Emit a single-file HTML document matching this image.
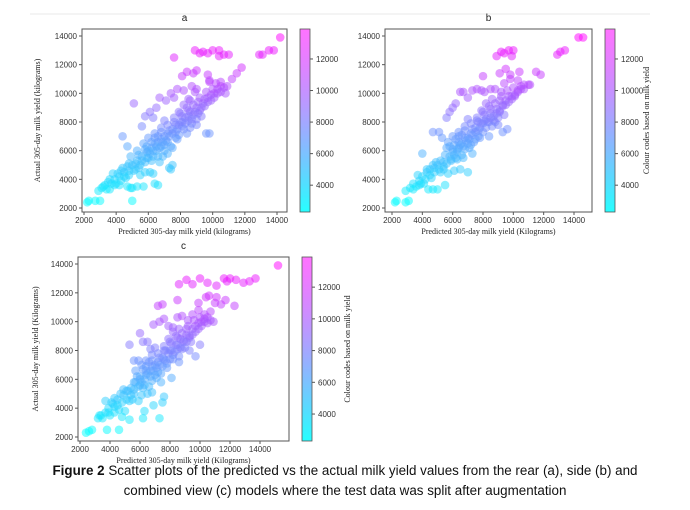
<!DOCTYPE html>
<html><head><meta charset="utf-8"><style>
body{margin:0;background:#fff;width:690px;height:510px;overflow:hidden}
svg{display:block}
.tk{font-family:"Liberation Sans",sans-serif;font-size:8px;fill:#333}
.al{font-family:"Liberation Serif",serif;font-size:8px;fill:#222}
.cap{position:absolute;left:0;width:690px;text-align:center;font-family:"Liberation Sans",sans-serif;font-size:13.4px;color:#111}
</style></head><body>
<svg id="chart" width="690" height="510">
<line x1="30" y1="14" x2="650" y2="14" stroke="#e8e8e8"/>
<defs><linearGradient id="cool" x1="0" y1="1" x2="0" y2="0"><stop offset="0" stop-color="#00ffff" stop-opacity="0.85"/><stop offset="1" stop-color="#ff00ff" stop-opacity="0.55"/></linearGradient></defs>
</svg>
<div class="cap" style="top:463px"><b>Figure 2</b> Scatter plots of the predicted vs the actual milk yield values from the rear (a), side (b) and</div>
<div class="cap" style="top:483px">combined view (c) models where the test data was split after augmentation</div>
<script>
const xTicks=[2000,4000,6000,8000,10000,12000,14000];
const yTicks=[2000,4000,6000,8000,10000,12000,14000];
const cbTicks=[4000,6000,8000,10000,12000];
const cbRange=[2300,13900];
const ptsA=[[2200,2400],[2300,2500],[2700,2500],[3000,2500],[2900,3200],[3100,3400],[3300,3600],[3500,3800],[3600,3300],[3900,4000],[4000,3700],[4200,4200],[4300,3900],[4500,4500],[4400,4800],[4600,4100],[4700,3500],[4900,3400],[5000,3400],[5300,3500],[5000,2500],[4800,4600],[5000,5000],[5200,4700],[5300,5300],[5500,5000],[5600,5600],[5800,5200],[5900,5900],[6000,5500],[6200,6200],[6100,4500],[6300,4400],[6400,3700],[6600,3600],[6300,5600],[6500,6000],[6600,6600],[6800,6300],[6900,5600],[7000,7000],[7200,6600],[7300,4800],[7400,4700],[7500,5000],[7200,5800],[7500,7200],[7700,6900],[7800,7500],[8000,8000],[8100,7700],[8300,8300],[8500,8100],[8600,8700],[8800,8500],[9000,9000],[9200,8800],[9400,9300],[9500,9600],[9700,9400],[9900,9900],[10100,10000],[10300,10300],[10500,10500],[10700,10400],[10800,10000],[9600,7200],[9800,7200],[8400,7200],[9000,7800],[4400,7000],[4700,6300],[4900,5600],[5300,6000],[5100,9300],[5600,7700],[5800,8400],[6100,8700],[6300,8300],[6500,9000],[6700,9700],[7100,9500],[7400,10000],[7600,9700],[7800,10300],[8200,10200],[8500,9600],[8900,10100],[9000,10300],[8700,10500],[9800,10900],[10200,10700],[10500,10800],[10900,10500],[11200,11000],[11500,11400],[11800,11800],[8100,11200],[8400,11500],[8800,11400],[9000,11600],[9700,11300],[9800,10800],[7600,12500],[8900,13000],[9200,12800],[9400,12900],[9700,12800],[10000,13000],[10400,12600],[10400,13000],[10700,12700],[11000,12700],[12900,12700],[13100,12700],[13500,13000],[13800,13000],[14200,13900],[7200,7200],[6800,7600],[7000,8100],[7600,8300],[7900,8700],[8200,9200],[8600,9500],[5700,6500],[6000,6900],[6400,7200],[5500,4300],[5800,4500],[6700,5200],[7000,6000],[4200,3600],[3800,4400],[3400,3300],[3700,3700],[5700,3500],[6000,6000],[6400,6500],[6800,6800],[7300,7400],[7700,7800],[8100,8400],[8500,8800],[9100,9400],[6200,5300],[5400,5700],[4800,5100],[4100,4400],[3600,4000],[3200,3500],[7500,6200],[7900,7100],[8700,7900],[9300,8400],[6600,7000],[5900,6300],
[4500,4200],[4800,4300],[5100,4600],[5400,4800],[5600,5300],[5900,5500],[6100,5800],[6300,6000],[6500,6300],[6700,6200],[6900,6600],[7100,6700],[7300,7000],[7500,7500],[7700,7300],[7900,7800],[8100,8000],[8300,7900],[8500,8400],[8700,8200],[8900,8700],[9100,8600],[9300,9000],[9500,9100],[9700,9700],[9900,9500],[10100,9700],[10300,10000],[10500,10100],[6600,5600],[7000,6400],[7400,6300],[7800,6800],[8200,7500],[8600,7600],[9000,8200],[6400,6900],[6800,7300],[7200,7800],[7600,8000],[8000,8600],[8400,9000],[8800,9200],[9200,9700],[9600,10100],[10000,10300],[3900,3600],[4300,4600],[4700,4900],[5200,5100],[5800,6100],[6200,6600]];
const ptsB=[[2200,2400],[2300,2500],[2900,2400],[3100,2500],[2900,3200],[3200,3400],[3400,3700],[3600,3500],[3800,3900],[4000,4200],[4100,3700],[4300,4500],[4400,3300],[4600,4100],[4700,3300],[5000,3300],[4800,4800],[5000,5000],[5200,4500],[5400,5200],[5500,3600],[5700,4400],[5800,5600],[6000,5900],[6100,4600],[6300,5400],[6400,6200],[6500,4700],[6600,6500],[6800,6100],[7000,4500],[7000,6900],[7200,6400],[7300,5800],[7500,7300],[7700,7000],[7800,7600],[8000,7900],[8200,8200],[8400,8000],[8500,8600],[8700,8400],[8900,8900],[9100,8700],[9300,9200],[9500,9500],[9700,9400],[9900,9800],[10100,9900],[10300,10200],[10500,10500],[10700,10300],[11000,10600],[9300,7300],[9600,7500],[8400,7000],[9000,7800],[4000,5800],[4700,7300],[5100,7300],[5300,6900],[5600,8300],[5800,8700],[6000,9000],[6200,9300],[6500,10100],[6700,10100],[7000,9700],[7300,10200],[7600,10300],[7900,10200],[8100,10100],[8500,10300],[8800,10300],[9200,10100],[9400,10700],[9800,11000],[10300,10900],[10700,10600],[11100,10600],[11500,11500],[11800,11300],[8000,11200],[9100,11400],[9500,11700],[9800,11300],[10400,11500],[8900,12600],[9200,12900],[9400,12800],[9700,13000],[10000,13000],[9900,12600],[12900,12700],[13100,12900],[13400,13000],[14300,13900],[14600,13900],[7200,7200],[6800,7700],[7000,8200],[7600,8300],[7900,8800],[8200,9300],[8600,9600],[5700,6600],[6000,7000],[6400,7300],[5400,4900],[5900,5300],[6700,5500],[7100,6200],[4200,4000],[3700,4300],[3400,3300],[3800,3600],[6000,6100],[6400,6600],[6800,6900],[7300,7500],[7700,8000],[8100,8500],[8500,8900],[9100,9500],[6200,5500],[5500,5700],[4900,5200],[4500,4700],[5600,6200],[6100,6400],[7500,6800],[8000,7300],[8800,8000],[9400,8500],[6600,7100],[6300,5900],
[4500,4300],[4800,4500],[5100,4700],[5400,4700],[5600,5100],[5900,5400],[6100,5700],[6300,6100],[6500,6400],[6700,6300],[6900,6700],[7100,6800],[7300,7100],[7500,7600],[7700,7400],[7900,7900],[8100,8100],[8300,8000],[8500,8300],[8700,8100],[8900,8600],[9100,8800],[9300,9100],[9500,9200],[9700,9800],[9900,9600],[10100,9800],[10300,10100],[10500,10300],[6600,5700],[7000,6500],[7400,6600],[7800,6900],[8200,7600],[8600,7700],[9000,8300],[6400,7000],[6800,7400],[7200,7900],[7600,8100],[8000,8700],[8400,9100],[8800,9300],[9200,9800],[9600,10200],[10000,10400],[3900,3700],[4300,4700],[4700,5000],[5200,5300],[5800,6300],[6200,6800]];
const ptsC=[[2400,2300],[2600,2400],[2800,2500],[3800,2500],[4600,2500],[3200,3300],[3300,3500],[3500,3300],[3700,3700],[3900,4000],[4000,3500],[4200,4300],[4300,3700],[4500,4600],[4600,3900],[4800,3400],[5000,3800],[5300,3200],[4900,4900],[5100,5200],[5300,4500],[5400,5400],[5600,5000],[5700,5800],[5900,4500],[6000,6000],[6200,3300],[6300,3800],[6200,5400],[6400,6300],[6500,5000],[6700,6600],[6800,5900],[6900,4200],[7000,7000],[7200,6500],[7300,3300],[7500,4400],[7600,4800],[7400,5800],[7600,7400],[7800,7100],[8000,8000],[8100,6100],[8200,7700],[8400,8400],[8500,8100],[8700,8800],[8900,8600],[9100,9100],[9300,8900],[9500,9500],[9700,9300],[9900,9900],[10100,10000],[10300,10200],[10500,10300],[10700,10100],[10900,10000],[9700,7600],[10000,8400],[8600,7200],[9300,8000],[5300,8400],[5600,7300],[5900,7300],[6000,9200],[6200,8600],[6500,8600],[6700,8100],[6900,9800],[7300,10000],[7600,10200],[7900,9700],[8200,9600],[8500,10300],[8800,10400],[9200,10100],[9500,10500],[9900,10800],[10300,10500],[10700,10700],[11000,11300],[11400,11200],[11700,11500],[12300,11100],[7200,11100],[7500,11200],[8500,11500],[9900,11300],[10400,11700],[10600,11800],[11100,11700],[8600,12600],[9100,12900],[9500,12600],[10000,13000],[10500,12700],[11100,12500],[11600,13000],[11800,12800],[12000,13000],[12400,12900],[12900,12700],[13300,12800],[13700,13000],[15200,13900],[7200,7200],[6800,7700],[7000,8200],[7600,8300],[7900,8800],[8200,9300],[8600,9500],[5700,6600],[6100,7000],[6400,7300],[5500,4600],[6100,4900],[6800,5100],[7100,6100],[4300,4100],[3700,4500],[3400,3500],[6000,6200],[6400,6600],[6800,6900],[7300,7500],[7700,8000],[8100,8500],[8500,8900],[9100,9500],[6300,5600],[5600,5800],[4900,5300],[4100,4400],[7500,6900],[8000,7400],[8800,8100],[9400,8600],[6600,7200],[6000,5600],
[4500,4200],[4800,4400],[5100,4600],[5400,4900],[5600,5300],[5900,5500],[6100,5800],[6300,6000],[6500,6400],[6700,6200],[6900,6600],[7100,6800],[7300,7000],[7500,7500],[7700,7300],[7900,7800],[8100,8000],[8300,7900],[8500,8400],[8700,8200],[8900,8700],[9100,8600],[9300,9000],[9500,9100],[9700,9700],[9900,9500],[10100,9700],[10300,10000],[10500,9900],[6600,5500],[7000,6300],[7400,6400],[7800,6800],[8200,7400],[8600,7600],[9000,8200],[6400,6900],[6800,7300],[7200,7800],[7600,8000],[8000,8600],[8400,9000],[8800,9200],[9200,9700],[9600,10100],[10000,10300],[3900,3700],[4300,4700],[4700,5000],[5200,5200],[5800,6200],[6200,6700]];
const NS='http://www.w3.org/2000/svg';
const svg=document.getElementById('chart');
function mk(tag,attrs,parent){const e=document.createElementNS(NS,tag);for(const k in attrs)e.setAttribute(k,attrs[k]);(parent||svg).appendChild(e);return e;}
function cool(v){let t=(v-cbRange[0])/(cbRange[1]-cbRange[0]);t=Math.max(0,Math.min(1,t));return 'rgb('+Math.round(255*t)+','+Math.round(255*(1-t))+',255)';}
function drawPlot(id,pts,g){
  const sx=v=>g.x2000+(v-2000)*(g.x14000-g.x2000)/12000;
  const sy=v=>g.y2000+(v-2000)*(g.y14000-g.y2000)/12000;
  const grp=mk('g',{});
  
  
  const t=mk('text',{x:(g.bx1+g.bx2)/2,y:g.by1-8,'text-anchor':'middle','font-family':'Liberation Sans,sans-serif','font-size':'10',fill:'#222'},grp);t.textContent=id;
  
  
  pts.forEach(p=>{const c=mk('circle',{cx:sx(p[0]),cy:sy(p[1]),r:4.3,fill:cool(p[1]),'fill-opacity':0.5},grp);
    
    });
  const fr=mk('rect',{x:g.bx1,y:g.by1,width:g.bx2-g.bx1,height:g.by2-g.by1,fill:'none',stroke:'#555','stroke-width':1},grp);
  
  
  xTicks.forEach(v=>{const x=sx(v);mk('line',{x1:x,x2:x,y1:g.by2,y2:g.by2+3,stroke:'#555'},grp);
    const l=mk('text',{x:x,y:g.by2+11,'text-anchor':'middle',class:'tk'},grp);l.textContent=v;
    
    });
  yTicks.forEach(v=>{const y=sy(v);mk('line',{x1:g.bx1-3,x2:g.bx1,y1:y,y2:y,stroke:'#555'},grp);
    const l=mk('text',{x:g.bx1-5,y:y+3,'text-anchor':'end',class:'tk'},grp);l.textContent=v;
    
    });
  const xl=mk('text',{x:(g.bx1+g.bx2)/2,y:g.by2+22,'text-anchor':'middle',class:'al'},grp);xl.textContent=g.xlabel;
  
  
  if(g.ylabel){const yl=mk('text',{x:0,y:0,'text-anchor':'middle',class:'al',transform:'translate('+g.ylx+','+(g.by1+g.by2)/2+') rotate(-90)'},grp);yl.textContent=g.ylabel;
    
    }
  const cb=mk('rect',{x:g.cx,y:g.by1,width:10,height:g.by2-g.by1,fill:'url(#cool)',stroke:'#555','stroke-width':0.8},grp);
  
  
  const cy=v=>g.by2-(v-cbRange[0])*(g.by2-g.by1)/(cbRange[1]-cbRange[0]);
  cbTicks.forEach(v=>{const y=cy(v);mk('line',{x1:g.cx+10,x2:g.cx+13,y1:y,y2:y,stroke:'#555'},grp);
    const l=mk('text',{x:g.cx+16,y:y+3,class:'tk'},grp);l.textContent=v;
    
    });
  if(g.cblabel){const cl=mk('text',{x:0,y:0,'text-anchor':'middle',class:'al',transform:'translate('+g.clx+','+(g.by1+g.by2)/2+') rotate(-90)'},grp);cl.textContent='Colour codes based on milk yield';
    
    }
}
drawPlot('a',ptsA,{bx1:82,bx2:287,by1:29,by2:212,x2000:84,x14000:277,y2000:208,y14000:36,cx:300,xlabel:'Predicted 305-day milk yield (kilograms)',ylabel:'Actual 305-day milk yield (kilograms)',ylx:40});
drawPlot('b',ptsB,{bx1:385,bx2:592,by1:29,by2:212,x2000:392,x14000:574,y2000:208,y14000:36,cx:605,xlabel:'Predicted 305-day milk yield (Kilograms)',cblabel:true,clx:649});
drawPlot('c',ptsC,{bx1:78,bx2:289,by1:257,by2:441,x2000:80,x14000:260,y2000:437,y14000:264,cx:302,xlabel:'Predicted 305-day milk yield (Kilograms)',ylabel:'Actual 305-day milk yield (Kilograms)',ylx:38,cblabel:true,clx:350});
</script>
</body></html>
